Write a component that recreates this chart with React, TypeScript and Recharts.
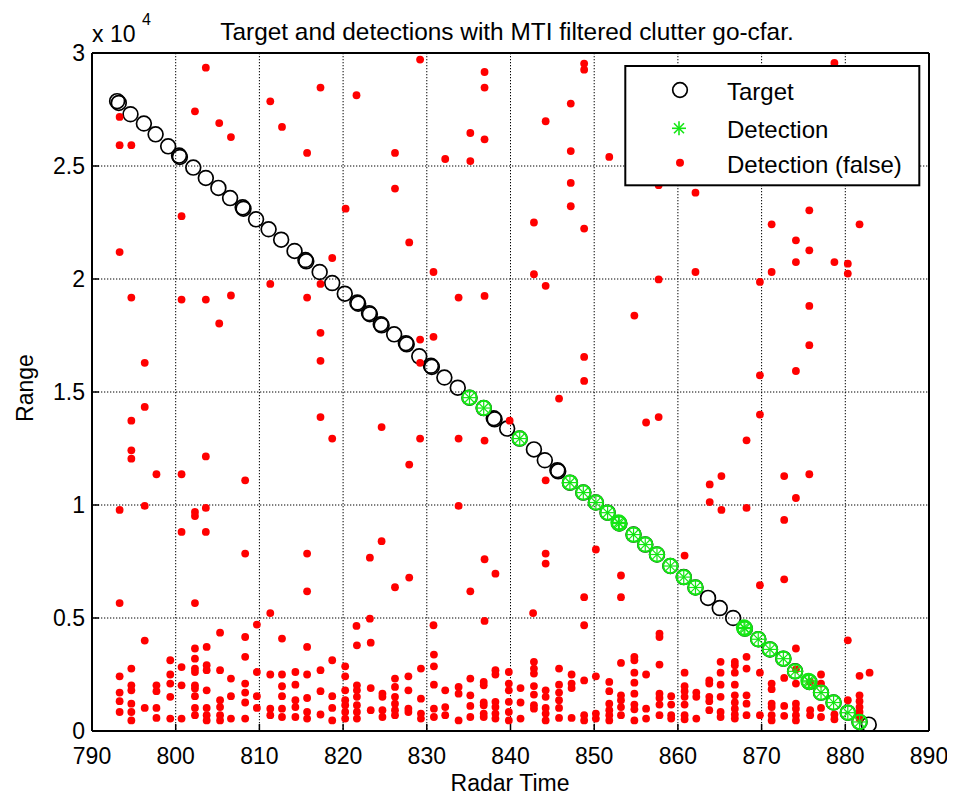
import React from 'react';
import { ScatterChart, Scatter, XAxis, YAxis, CartesianGrid } from 'recharts';

const FONT = '"Liberation Sans", Arial, Helvetica, sans-serif';

const xTicks = [790, 800, 810, 820, 830, 840, 850, 860, 870, 880, 890];
const yTicks = [0, 5000, 10000, 15000, 20000, 25000, 30000];

const targetTime = [793.2, 794.6, 796.2, 797.6, 799.1, 800.5, 802.1, 803.6, 805.1, 806.5, 808.1, 809.6, 811.1, 812.6, 814.2, 815.6, 817.2, 818.7, 820.2, 821.8, 823.2, 824.6, 826.1, 827.6, 829.1, 830.6, 832.1, 833.7, 835.1, 836.8, 838.1, 839.6, 841.1, 842.8, 844.1, 845.7, 847.1, 848.7, 850.2, 851.6, 853.0, 854.7, 856.1, 857.5, 859.1, 860.7, 862.1, 863.6, 865.0, 866.6, 868.0, 869.6, 871.0, 872.6, 874.0, 875.7, 877.1, 878.6, 880.3, 881.7, 882.8];
const targetRange = [27790, 27290, 26880, 26400, 25870, 25400, 24930, 24470, 24030, 23580, 23110, 22640, 22200, 21740, 21240, 20780, 20310, 19820, 19350, 18910, 18440, 17950, 17550, 17110, 16580, 16110, 15640, 15190, 14750, 14290, 13790, 13380, 12940, 12460, 11980, 11490, 10990, 10550, 10110, 9660, 9180, 8690, 8250, 7810, 7300, 6810, 6350, 5890, 5440, 5000, 4530, 4060, 3610, 3200, 2640, 2170, 1700, 1260, 810, 400, 280];
// repeated target reports (drawn as doubled circles)
const targetRepeatTime = [793.0, 800.4, 808.0, 815.5, 821.7, 823.1, 824.5, 827.5, 830.5, 838.0, 845.6];
const targetRepeatRange = [27870, 25460, 23170, 20840, 18960, 18490, 18000, 17160, 16160, 13840, 11540];

const detectionTime = [835.1, 836.8, 841.1, 847.1, 848.7, 850.2, 851.6, 853.0, 854.7, 856.1, 857.5, 859.1, 860.7, 862.1, 868.0, 869.6, 871.0, 872.6, 874.0, 875.7, 877.1, 878.6, 880.3, 881.7, 852.9, 867.9, 875.6];
const detectionRange = [14750, 14290, 12940, 10990, 10550, 10110, 9660, 9180, 8690, 8250, 7810, 7300, 6810, 6350, 4530, 4060, 3610, 3200, 2640, 2170, 1700, 1260, 810, 400, 9230, 4580, 2220];

const falseIsolated: [number, number][] = [
  [803.6, 29350], [817.3, 28470], [821.6, 28130], [811.3, 27860], [793.3, 27170], [802.3, 27420], [805.2, 26900], [812.7, 26730], [806.6, 26280], [793.3, 25920], [794.7, 25920], [815.7, 25580], [800.7, 22780], [820.3, 23110], [793.3, 21190], [818.7, 20930], [811.3, 19780], [817.3, 19780], [794.7, 19180], [800.7, 19090], [803.6, 19090], [806.6, 19270], [815.7, 19180], [805.2, 18030], [817.3, 17620], [817.3, 16380], [796.3, 16290],
  [829.2, 29710], [836.9, 29160], [836.9, 28470], [848.8, 29530], [848.8, 29260], [847.2, 27760], [844.2, 26980], [835.2, 26460], [836.9, 26180], [826.2, 25580], [832.2, 25310], [835.2, 25220], [847.2, 25660], [851.8, 25400], [826.2, 24000], [847.2, 24250], [847.2, 23220], [842.8, 22500], [848.8, 22230], [827.9, 21620], [830.8, 20310], [842.8, 20210], [844.2, 19700], [857.7, 19980], [833.8, 19180], [836.9, 19250], [854.8, 18380], [829.2, 17320], [830.8, 17440], [829.2, 16290], [848.8, 16550], [848.8, 15490], [845.8, 14710],
  [878.7, 29560], [857.7, 24150], [862.1, 23820], [875.7, 23040], [871.2, 22420], [881.7, 22420], [874.1, 21710], [875.7, 21270], [874.1, 20750], [878.7, 20750], [880.3, 20680], [880.3, 20240], [862.1, 20310], [871.2, 20310], [869.8, 19870], [875.7, 18810], [875.7, 17070], [874.1, 15930], [869.8, 15740],
  [796.3, 14340], [794.7, 13730], [794.7, 12420], [794.7, 12050], [797.7, 11360], [800.7, 11360], [803.6, 12150], [808.3, 11090], [817.3, 13890], [818.7, 12940], [793.3, 9780], [796.3, 9960], [802.3, 9690], [802.3, 9510], [803.6, 9870], [800.7, 8810], [803.6, 8810], [808.3, 7850], [815.7, 7850], [823.2, 7670], [815.7, 6180], [793.3, 5660], [802.3, 5660], [811.3, 5220], [823.2, 4970], [809.7, 4710], [821.6, 4650],
  [824.6, 13450], [829.2, 12940], [833.8, 12940], [836.9, 12850], [839.9, 13730], [827.9, 11790], [844.2, 11090], [856.2, 13650], [857.7, 13890], [833.8, 9960], [824.6, 8400], [836.9, 7600], [838.2, 6960], [844.2, 7850], [844.2, 7410], [850.2, 8030], [827.9, 6790], [826.2, 6360], [835.2, 6180], [853.2, 6880], [848.8, 5920], [853.2, 5920], [842.7, 5220], [836.9, 4870], [830.8, 4680], [848.8, 4680],
  [869.8, 14000], [868.2, 12860], [865.2, 11280], [863.8, 10910], [863.8, 10130], [865.2, 9780], [868.2, 9870], [872.7, 11280], [875.7, 11360], [874.1, 10310], [872.7, 9340], [860.8, 7760], [872.7, 6710], [869.8, 6450],
];

// low-range clutter residue: [time, ranges at that scan]
const clutterColumns: [number, number[]][] = [
  [793.3, [2420, 1700, 1320, 840]],
  [794.7, [2760, 2020, 1800, 1210, 840, 470]],
  [796.3, [4000, 1020]],
  [797.7, [2020, 1760, 1020, 580]],
  [799.35, [3130, 2500, 2100, 1510, 550]],
  [800.7, [2830, 2020, 550]],
  [802.3, [3650, 3200, 2760, 2610, 2020, 1880, 1540, 1020, 700]],
  [803.7, [3720, 2910, 2690, 1800, 1020, 700, 470]],
  [805.3, [4350, 2690, 1360, 1060, 700, 470]],
  [806.6, [2320, 1540, 550]],
  [808.3, [4160, 3280, 2100, 1700, 1260, 550]],
  [809.7, [2610, 1540, 1020]],
  [811.3, [2500, 990, 700]],
  [812.7, [4090, 2500, 1980, 1540, 990, 620]],
  [814.3, [2610, 2050, 1360, 1060, 620]],
  [815.7, [3720, 2500, 1460, 840, 550]],
  [817.3, [2690, 1760, 730]],
  [818.7, [3130, 1540, 1020, 470]],
  [820.25, [2860, 2420, 1800, 1360, 1140, 840, 550]],
  [821.65, [3790, 2020, 1800, 1510, 1140, 840, 550]],
  [823.3, [3910, 1900, 920]],
  [824.7, [1650, 1510, 920, 620]],
  [826.2, [2320, 1950, 1510, 1210, 920, 700]],
  [827.8, [2420, 1800, 990, 840]],
  [829.3, [2760, 1430, 770, 550]],
  [830.85, [3380, 2860, 2050, 990, 620]],
  [832.2, [1800, 1060, 700]],
  [833.8, [1950, 1650, 470]],
  [835.2, [2320, 1580, 1110, 620]],
  [836.8, [2170, 2020, 1260, 1140, 770, 620]],
  [838.2, [2690, 2500, 1290, 1060, 770, 550]],
  [839.8, [2610, 2100, 1800, 1290, 840, 470]],
  [841.2, [1900, 1260, 550]],
  [842.8, [3060, 2760, 2540, 1990, 1610, 1140, 990]],
  [844.2, [1800, 1510, 1020, 770, 470]],
  [845.8, [2760, 2050, 1700, 1360, 1020, 580]],
  [847.3, [2500, 2100, 1900, 580]],
  [848.8, [2240, 700, 470]],
  [850.2, [2420, 770, 550]],
  [851.8, [2170, 1760, 1210, 920, 700, 470]],
  [853.2, [3010, 1580, 1360, 1060, 700]],
  [854.8, [3280, 3130, 2580, 2140, 1650, 1170, 960, 470]],
  [856.2, [2500, 990, 550]],
  [857.8, [4310, 4160, 2940, 1650, 1460, 1170, 700]],
  [859.2, [1540, 1170, 700, 550]],
  [860.8, [2580, 1980, 1760, 1510, 1170, 700, 520]],
  [862.2, [1700, 1510, 550]],
  [863.75, [2240, 2100, 1510, 1320, 920]],
  [865.1, [3060, 2580, 2050, 1510, 840, 620]],
  [866.8, [3060, 2910, 2580, 2050, 1580, 1260, 990, 730, 550]],
  [868.2, [3280, 2760, 1580, 1210, 700]],
  [869.8, [2580, 700]],
  [871.2, [2100, 1850, 1210, 1060, 700, 470]],
  [872.7, [2350, 1110, 670]],
  [874.1, [3650, 2730, 2100, 1210, 990, 700, 470]],
  [875.8, [2170, 920, 700]],
  [877.1, [2500, 2100, 1020, 620]],
  [878.7, [730, 520]],
  [880.3, [4010, 1360]],
  [881.7, [2440, 1580, 1320, 1060, 840, 550]],
  [882.9, [2580]],
];

const targetData = [
  ...targetTime.map((x, i) => ({ x, y: targetRange[i] })),
  ...targetRepeatTime.map((x, i) => ({ x, y: targetRepeatRange[i] })),
];
const detectionData = detectionTime.map((x, i) => ({ x, y: detectionRange[i] }));
const falseData = [
  ...falseIsolated.map(([x, y]) => ({ x, y })),
  ...clutterColumns.flatMap(([x, ys]) => ys.map((y) => ({ x, y }))),
];

const TargetDot = (p: any) => {
  if (p.cx == null || p.cy == null) return <g />;
  return <circle cx={p.cx} cy={p.cy} r={7.4} fill="none" stroke="#000" strokeWidth={1.7} />;
};

const GREEN = '#14e614';

const DetectionDot = (p: any) => {
  if (p.cx == null || p.cy == null) return <g />;
  const { cx, cy } = p;
  const r = 7.2;
  const d = r * 0.7071;
  return (
    <g>
      <circle cx={cx} cy={cy} r={r} fill="none" stroke={GREEN} strokeWidth={2} />
      <line x1={cx - r} y1={cy} x2={cx + r} y2={cy} stroke={GREEN} strokeWidth={1.2} />
      <line x1={cx} y1={cy - r} x2={cx} y2={cy + r} stroke={GREEN} strokeWidth={1.2} />
      <line x1={cx - d} y1={cy - d} x2={cx + d} y2={cy + d} stroke={GREEN} strokeWidth={1.2} />
      <line x1={cx - d} y1={cy + d} x2={cx + d} y2={cy - d} stroke={GREEN} strokeWidth={1.2} />
    </g>
  );
};

const FalseDot = (p: any) => {
  if (p.cx == null || p.cy == null) return <g />;
  return <circle cx={p.cx} cy={p.cy} r={3.9} fill="#ff0000" />;
};

const axisLine = { stroke: '#000', strokeWidth: 2 };
const tickLine = { stroke: '#000', strokeWidth: 1.5 };

export default function App() {
  return (
    <div style={{ position: 'relative', width: 939, height: 784, fontFamily: FONT, background: '#fff' }}>
      <ScatterChart width={939} height={784} margin={{ top: 44, right: 17, bottom: 31, left: 0 }} style={{ fontFamily: FONT }}>
        <CartesianGrid xAxisId="bottom" yAxisId="left" stroke="#000" strokeDasharray="1.3 1.7" strokeWidth={1} />
        <XAxis
          xAxisId="bottom"
          dataKey="x"
          type="number"
          domain={[790, 890]}
          ticks={xTicks}
          interval={0}
          allowDataOverflow
          height={30}
          tickSize={-7}
          tickMargin={24}
          axisLine={axisLine}
          tickLine={tickLine}
          tick={{ fill: '#000', fontSize: 23 }}
        />
        <XAxis
          xAxisId="top"
          orientation="top"
          type="number"
          domain={[790, 890]}
          ticks={xTicks}
          interval={0}
          height={1}
          tickSize={-7}
          axisLine={axisLine}
          tickLine={tickLine}
          tick={false}
        />
        <YAxis
          yAxisId="left"
          dataKey="y"
          type="number"
          domain={[0, 30000]}
          ticks={yTicks}
          interval={0}
          allowDataOverflow
          width={84}
          tickSize={-7}
          tickMargin={14}
          axisLine={axisLine}
          tickLine={tickLine}
          tick={{ fill: '#000', fontSize: 23 }}
          tickFormatter={(v: number) => String(v / 10000)}
        />
        <YAxis
          yAxisId="right"
          orientation="right"
          type="number"
          domain={[0, 30000]}
          ticks={yTicks}
          interval={0}
          width={1}
          tickSize={-7}
          axisLine={axisLine}
          tickLine={tickLine}
          tick={false}
        />
        <Scatter name="Target" xAxisId="bottom" yAxisId="left" data={targetData} shape={TargetDot} isAnimationActive={false} />
        <Scatter name="Detection (false)" xAxisId="bottom" yAxisId="left" data={falseData} shape={FalseDot} isAnimationActive={false} />
        <Scatter name="Detection" xAxisId="bottom" yAxisId="left" data={detectionData} shape={DetectionDot} isAnimationActive={false} />
      </ScatterChart>
      <svg
        width={939}
        height={792}
        style={{ position: 'absolute', left: 0, top: 0, pointerEvents: 'none', fontFamily: FONT }}
      >
        <text x={499} y={32} textAnchor="middle" fontSize={24.4} fill="#000">
          Target and detections with MTI filtered clutter go-cfar.
        </text>
        <text x={84} y={34} fontSize={23} fill="#000">x 10</text>
        <text x={134} y={17} fontSize={16} fill="#000">4</text>
        <text x={502} y={783} textAnchor="middle" fontSize={23} fill="#000">Radar Time</text>
        <text x={0} y={0} transform="translate(25,380) rotate(-90)" textAnchor="middle" fontSize={23} fill="#000">Range</text>
        <g>
          <rect x={617.3} y={58} width={294} height={119.3} fill="#fff" stroke="#000" strokeWidth={2} />
          <circle cx={672} cy={82} r={7.3} fill="none" stroke="#000" strokeWidth={1.7} />
          <g stroke={GREEN} strokeWidth={1.6}>
            <line x1={664} y1={120.3} x2={678} y2={120.3} />
            <line x1={671} y1={113.3} x2={671} y2={127.3} />
            <line x1={666} y1={115.3} x2={676} y2={125.3} />
            <line x1={666} y1={125.3} x2={676} y2={115.3} />
          </g>
          <circle cx={672} cy={154.7} r={4} fill="#ff0000" />
          <text x={719} y={91.5} fontSize={24} fill="#000">Target</text>
          <text x={719} y={130} fontSize={24} fill="#000">Detection</text>
          <text x={719} y={164.5} fontSize={24} fill="#000">Detection (false)</text>
        </g>
      </svg>
    </div>
  );
}
